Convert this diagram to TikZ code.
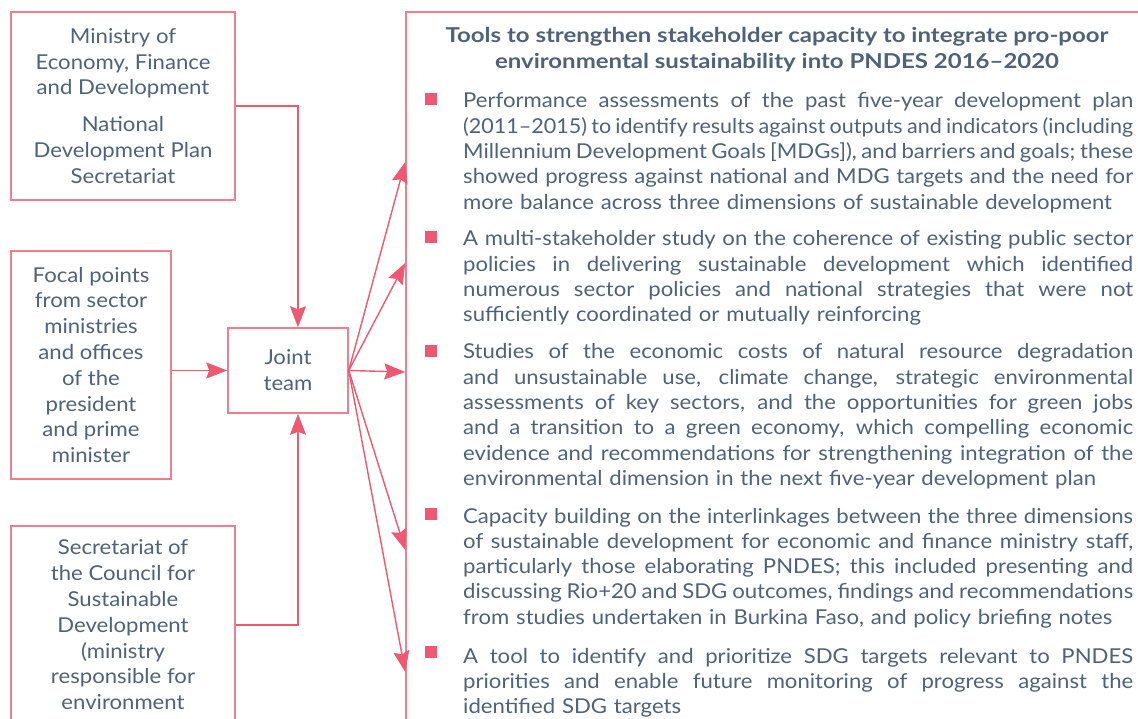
\documentclass[tikz,border=0pt]{standalone}
\usepackage{fontspec}
\setmainfont{Lato}[FakeStretch=1.08]
\newfontfamily\titlefont{Lato}[FakeStretch=1.17]
\newfontfamily\narrowfont{Lato}[FakeStretch=1.05]
\usetikzlibrary{arrows.meta}
\definecolor{ink}{HTML}{4E6279}
\definecolor{rose}{HTML}{EF5871}
\definecolor{roseline}{HTML}{F17D8F}
% one justified line of a list item, spread to the full column width
\newcommand\jl[1]{\leavevmode\hbox to 670pt{\spaceskip=0.26em plus 1fil minus 0.12em\relax #1}}
\begin{document}
\begin{tikzpicture}[x=1pt,y=-1pt,
  box/.style={draw=roseline, line width=1.5pt, inner sep=0pt, text=ink, align=center,
    font=\fontsize{20.5}{25.8}\selectfont},
  flow/.style={draw=rose, line width=1.4pt, -{Stealth[length=21pt,width=16pt,inset=3pt]}},
  bul/.style={fill=rose, minimum size=12pt, inner sep=0pt},
  item/.style={anchor=base west, text width=670pt, align=left, inner sep=0pt, text=ink,
    font=\fontsize{20.5}{25.3}\selectfont},
]
\useasboundingbox (0,0) rectangle (1138,719);
\clip (0,0) rectangle (1138,719);

% Stakeholder boxes
\node[box, minimum width=224pt, minimum height=188pt] (mef) at (123,106)
  {Ministry of\\Economy, Finance\\and Development\\[11pt]National\\Development Plan\\Secretariat};
\node[box, minimum width=160pt, minimum height=228pt] (focal) at (91,365)
  {Focal points\\from sector\\ministries\\and offices\\of the\\president\\and prime\\minister};
\node[box, minimum width=224pt, minimum height=198pt] (cndd) at (123,625)
  {Secretariat of\\the Council for\\Sustainable\\Development\\(ministry\\responsible for\\environment};
\node[box, minimum width=120pt, minimum height=85pt] (joint) at (288,370.5) {Joint\\team};

% Tools panel
\node[draw=roseline, line width=1.5pt, minimum width=754pt, minimum height=748pt, inner sep=0pt]
  (tools) at (783,386) {};
\node[text=ink, align=center, font=\fontsize{20.5}{26}\titlefont\bfseries] (title) at (777,50)
  {Tools to strengthen stakeholder capacity to integrate pro-poor\\environmental sustainability into PNDES 2016–2020};

\node[bul] (b1) at (430.5,99) {};
\node[item] (i1) at (463,108)
  {\jl{Performance assessments of the past five-year development plan}\\
   \jl{\narrowfont(2011–2015) to identify results against outputs and indicators (including}\\
   \jl{Millennium Development Goals [MDGs]), and barriers and goals; these}\\
   \jl{showed progress against national and MDG targets and the need for}\\
   more balance across three dimensions of sustainable development};
\node[bul] (b2) at (430.5,237.5) {};
\node[item] (i2) at (463,246)
  {\jl{A multi-stakeholder study on the coherence of existing public sector}\\
   \jl{policies in delivering sustainable development which identified}\\
   \jl{numerous sector policies and national strategies that were not}\\
   sufficiently coordinated or mutually reinforcing};
\node[bul] (b3) at (430.5,351) {};
\node[item] (i3) at (463,359)
  {\jl{Studies of the economic costs of natural resource degradation}\\
   \jl{and unsustainable use, climate change, strategic environmental}\\
   \jl{assessments of key sectors, and the opportunities for green jobs}\\
   \jl{and a transition to a green economy, which compelling economic}\\
   \jl{evidence and recommendations for strengthening integration of the}\\
   environmental dimension in the next five-year development plan};
\node[bul] (b4) at (430.5,514) {};
\node[item] (i4) at (463,523)
  {\jl{Capacity building on the interlinkages between the three dimensions}\\
   \jl{of sustainable development for economic and finance ministry staff,}\\
   \jl{particularly those elaborating PNDES; this included presenting and}\\
   \jl{discussing Rio+20 and SDG outcomes, findings and recommendations}\\
   from studies undertaken in Burkina Faso, and policy briefing notes};
\node[bul] (b5) at (430.5,652) {};
\node[item] (i5) at (463,663)
  {\jl{A tool to identify and prioritize SDG targets relevant to PNDES}\\
   \jl{priorities and enable future monitoring of progress against the}\\
   identified SDG targets};

% Where the fan of arrows meets the panel
\coordinate (t1) at (tools.west |- 0,162);
\coordinate (t2) at (tools.west |- 0,263);
\coordinate (t3) at (tools.west |- 0,372);
\coordinate (t4) at (tools.west |- 0,550);
\coordinate (t5) at (tools.west |- 0,672);

% Connectors
\draw[flow] (mef.east) -| ([xshift=10pt]joint.north);
\draw[flow] (cndd.east) -| ([xshift=10pt]joint.south);
\draw[flow] (focal.east |- joint.west) -- (joint.west);
\foreach \t in {t1,t2,t3,t4,t5}
  \draw[flow] (joint.east) -- (\t);
\end{tikzpicture}
\end{document}
